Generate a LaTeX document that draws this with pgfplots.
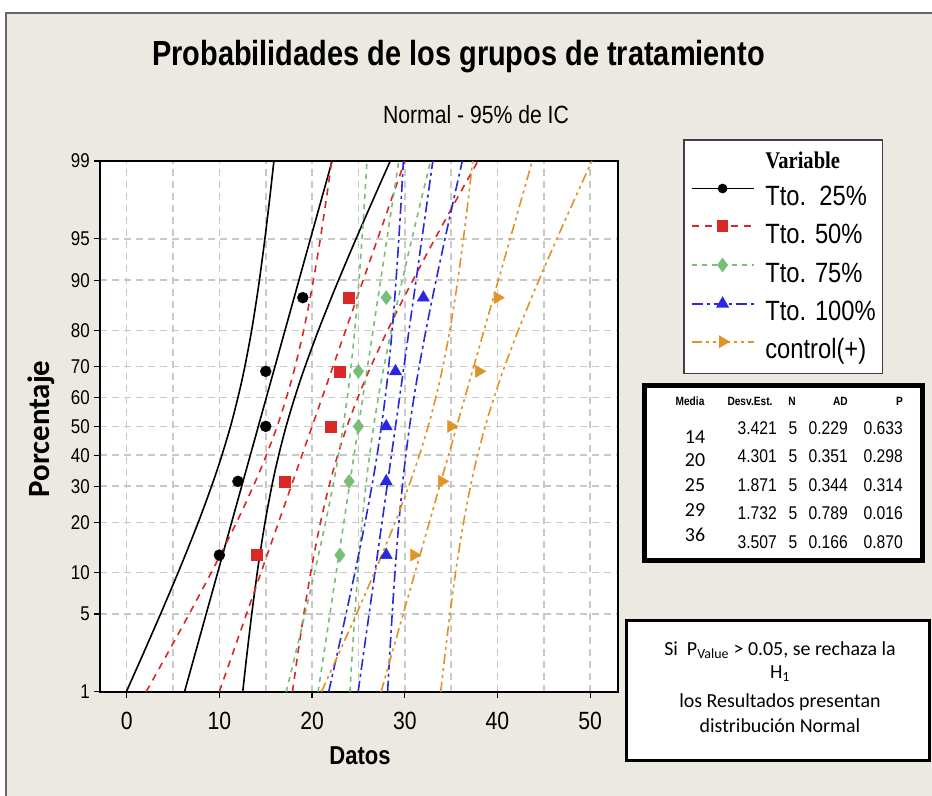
\documentclass[border=0pt]{standalone}
\usepackage{fontspec}
\setmainfont{Liberation Sans}
\newfontfamily\mini[FakeStretch=0.85]{Liberation Sans}
\newfontfamily\titlefont[FakeStretch=0.83]{Liberation Sans}
\newfontfamily\serifc[FakeStretch=0.86]{Liberation Serif}
\newfontfamily\calib{Carlito}
\usepackage{pgfplots}
\usepackage{pgfplotstable}
\pgfplotsset{compat=1.18}

\definecolor{panel}{RGB}{236,233,226}
\definecolor{gridc}{RGB}{200,200,200}
\definecolor{gred}{RGB}{218,40,40}
\definecolor{ggreen}{RGB}{120,190,120}
\definecolor{gblue}{RGB}{40,40,220}
\definecolor{gorange}{RGB}{224,148,40}

% 95% confidence bands (x values) at probability-scale positions z
\pgfplotstableread{
z       g1l    g1u    g2l    g2u    g3l    g3u    g4l    g4u    g5l    g5u
-2.3263 -0.034 12.520 2.104  17.887 17.215 24.081 21.793 28.149 21.008 33.877
-2      1.748  12.968 4.345  18.451 18.190 24.326 22.696 28.376 22.835 34.337
-1.6    3.891  13.562 7.039  19.197 19.362 24.651 23.781 28.677 25.032 34.946
-1.2    5.962  14.228 9.643  20.035 20.494 25.015 24.829 29.014 27.155 35.628
-0.8    7.915  15.011 12.098 21.020 21.563 25.444 25.818 29.411 29.157 36.432
-0.4    9.687  15.977 14.326 22.234 22.532 25.972 26.715 29.899 30.973 37.421
0       11.202 17.198 16.230 23.770 23.360 26.640 27.482 30.518 32.526 38.674
0.4     12.423 18.713 17.766 25.674 24.028 27.468 28.101 31.285 33.779 40.227
0.8     13.389 20.485 18.980 27.902 24.556 28.437 28.589 32.182 34.768 42.043
1.2     14.172 22.438 19.965 30.357 24.985 29.506 28.986 33.171 35.572 44.045
1.6     14.838 24.509 20.803 32.961 25.349 30.638 29.323 34.219 36.254 46.168
2       15.432 26.652 21.549 35.655 25.674 31.810 29.624 35.304 36.863 48.365
2.3263  15.880 28.434 22.113 37.896 25.919 32.785 29.851 36.207 37.323 50.192
}\bands

\pgfplotstableread{
z       f1     f2     f3     f4     f5
-2.3263 6.243  9.996  20.648 24.971 27.443
2.3263  22.157 30.004 29.352 33.029 43.757
}\fits

\pgfplotstableread{
z       p1 p2 p3 p4 p5
-1.1284 10 14 23 28 31
-0.4823 12 17 24 28 34
0       15 22 25 28 35
0.4823  15 23 25 29 38
1.1284  19 24 28 32 40
}\pts

\tikzset{
  g1/.style={black, line width=1.6bp, solid},
  g2/.style={gred, line width=1.6bp, dash pattern=on 7bp off 6bp},
  g3/.style={ggreen, line width=1.6bp, dash pattern=on 5bp off 5bp},
  g4/.style={gblue, line width=1.6bp, dash pattern=on 11bp off 4bp on 3bp off 4bp},
  g5/.style={gorange, line width=1.6bp, dash pattern=on 10bp off 4bp on 3bp off 4bp on 3bp off 4bp},
}

\begin{document}
\begin{tikzpicture}
\fill[white] (0,0) rectangle (932bp,-796bp);
\useasboundingbox (0,0) rectangle (932bp,-796bp);
\fill[panel] (6bp,-13bp) rectangle (932bp,-796bp);
\draw[black!60, line width=1.5bp] (6bp,-796bp) -- (6bp,-13bp) -- (932bp,-13bp);

\node[anchor=base, inner sep=0pt, font=\titlefont\bfseries\fontsize{35}{35}\selectfont] at (458.5bp,-65bp) {Probabilidades de los grupos de tratamiento};
\node[anchor=base, inner sep=0pt, font=\mini\fontsize{25}{25}\selectfont] at (476bp,-123bp) {Normal - 95\% de IC};

\begin{axis}[
  at={(100bp,-161bp)}, anchor=north west,
  scale only axis, width=517.7bp, height=530.7bp,
  xmin=-2.88, xmax=52.97, ymin=-2.3263, ymax=2.3263,
  axis background/.style={fill=white},
  axis line style={black, line width=1.6bp},
  xtick={0,10,20,30,40,50},
  minor xtick={5,15,25,35,45},
  ytick={-2.3263,-1.6449,-1.2816,-0.8416,-0.5244,-0.2533,0,0.2533,0.5244,0.8416,1.2816,1.6449,2.3263},
  yticklabels={1,5,10,20,30,40,50,60,70,80,90,95,99},
  xmajorgrids, xminorgrids, ymajorgrids,
  major grid style={gridc, line width=1.6bp, dash pattern=on 7bp off 5bp},
  minor grid style={gridc, line width=1.6bp, dash pattern=on 7bp off 5bp},
  tick align=outside, tick pos=left,
  major tick length=6bp, minor tick length=0pt,
  every tick/.style={black, line width=1.3bp},
  /pgf/number format/assume math mode=true,
  xticklabel style={font=\mini\fontsize{25}{25}\selectfont, text height=18bp, text depth=0pt, inner sep=0pt, anchor=north, yshift=-14bp},
  yticklabel style={font=\mini\fontsize{20}{20}\selectfont, inner sep=0pt, anchor=east, xshift=-4bp},
  legend style={at={(1.1262,1.0414)}, anchor=north west, draw=black!75, line width=1.5bp, fill=white,
    inner xsep=7bp, inner ysep=9bp, row sep=9.75bp,
    nodes={inner sep=0pt, text height=20bp, text depth=6bp, font=\mini\fontsize{28}{28}\selectfont},
    /tikz/every odd column/.append style={column sep=11bp}},
  legend cell align=left,
  legend image code/.code={\draw[mark repeat=2, mark phase=2] plot coordinates {(0bp,10bp) (31bp,10bp) (62bp,10bp)};},
]
% group 1
\addplot[g1, smooth, forget plot] table[x=g1l, y=z] {\bands};
\addplot[g1, smooth, forget plot] table[x=g1u, y=z] {\bands};
\addplot[g1, forget plot] table[x=f1, y=z] {\fits};
% group 2
\addplot[g2, smooth, forget plot] table[x=g2l, y=z] {\bands};
\addplot[g2, smooth, forget plot] table[x=g2u, y=z] {\bands};
\addplot[g2, forget plot] table[x=f2, y=z] {\fits};
% group 3
\addplot[g3, smooth, forget plot] table[x=g3l, y=z] {\bands};
\addplot[g3, smooth, forget plot] table[x=g3u, y=z] {\bands};
\addplot[g3, forget plot] table[x=f3, y=z] {\fits};
% group 4
\addplot[g4, smooth, forget plot] table[x=g4l, y=z] {\bands};
\addplot[g4, smooth, forget plot] table[x=g4u, y=z] {\bands};
\addplot[g4, forget plot] table[x=f4, y=z] {\fits};
% group 5
\addplot[g5, smooth, forget plot] table[x=g5l, y=z] {\bands};
\addplot[g5, smooth, forget plot] table[x=g5u, y=z] {\bands};
\addplot[g5, forget plot] table[x=f5, y=z] {\fits};
% points
\addplot[only marks, mark=*, mark size=5.5bp, black, forget plot] table[x=p1, y=z] {\pts};
\addplot[only marks, mark=square*, mark size=5.5bp, gred, forget plot] table[x=p2, y=z] {\pts};
\addplot[only marks, mark=diamond*, mark size=7bp, ggreen, forget plot] table[x=p3, y=z] {\pts};
\addplot[only marks, mark=triangle*, mark size=7bp, gblue, forget plot] table[x=p4, y=z] {\pts};
\addplot[only marks, mark=triangle*, mark size=7bp, gorange, mark options={rotate=-90}, forget plot] table[x=p5, y=z] {\pts};

\addlegendimage{empty legend}
\addlegendentry{\serifc\bfseries\fontsize{24}{24}\selectfont Variable}
\addlegendimage{g1, mark=*, mark size=4bp, mark options={solid}}
\addlegendentry{Tto.\ \ 25\%}
\addlegendimage{g2, mark=square*, mark size=5bp, mark options={solid}}
\addlegendentry{Tto. 50\%}
\addlegendimage{g3, mark=diamond*, mark size=6bp, mark options={solid}}
\addlegendentry{Tto. 75\%}
\addlegendimage{g4, mark=triangle*, mark size=6bp, mark options={solid}}
\addlegendentry{Tto. 100\%}
\addlegendimage{g5, mark=triangle*, mark size=6bp, mark options={solid, rotate=-90}}
\addlegendentry{control(+)}
\end{axis}

\node[rotate=90, inner sep=0pt, font=\calib\bfseries\fontsize{31}{31}\selectfont] at (41bp,-429bp) {Porcentaje};
\node[anchor=base, inner sep=0pt, font=\mini\bfseries\fontsize{26}{26}\selectfont] at (360bp,-764bp) {Datos};

% statistics table
\draw[black, line width=5bp, fill=white] (644.5bp,-385.5bp) rectangle (922.5bp,-560.5bp);
\begin{scope}[every node/.style={inner sep=0pt, font=\mini\bfseries\fontsize{12}{12}\selectfont}]
\node[anchor=base] at (690bp,-405bp) {Media};
\node[anchor=base] at (750bp,-405bp) {Desv.Est.};
\node[anchor=base] at (792bp,-405bp) {N};
\node[anchor=base east] at (848bp,-405bp) {AD};
\node[anchor=base east] at (903bp,-405bp) {P};
\end{scope}
\begin{scope}[every node/.style={inner sep=0pt, font=\mini\fontsize{18.5}{18.5}\selectfont}]
\foreach \yy/\sd/\ad/\pv in {434/3.421/0.229/0.633, 462/4.301/0.351/0.298, 491/1.871/0.344/0.314, 519/1.732/0.789/0.016, 548/3.507/0.166/0.870}{
  \node[anchor=base east] at (777bp,-\yy bp) {\sd};
  \node[anchor=base] at (793bp,-\yy bp) {5};
  \node[anchor=base east] at (848bp,-\yy bp) {\ad};
  \node[anchor=base east] at (903bp,-\yy bp) {\pv};
}
\end{scope}
\begin{scope}[every node/.style={inner sep=0pt, anchor=base, font=\calib\fontsize{20}{20}\selectfont}]
\node at (695bp,-443bp) {14};
\node at (695bp,-466bp) {20};
\node at (695bp,-491bp) {25};
\node at (695bp,-516bp) {29};
\node at (695bp,-541bp) {36};
\end{scope}

% note box
\draw[black, line width=3bp, fill=white] (626bp,-620bp) rectangle (929bp,-760bp);
\begin{scope}[every node/.style={inner sep=0pt, anchor=base, font=\calib\fontsize{20}{20}\selectfont}]
\node at (780bp,-655bp) {Si\ \ P\textsubscript{Value} > 0.05, se rechaza la};
\node at (780bp,-678bp) {H\textsubscript{1}};
\node at (780bp,-707bp) {los Resultados presentan};
\node at (780bp,-732bp) {distribución Normal};
\end{scope}
\end{tikzpicture}
\end{document}
